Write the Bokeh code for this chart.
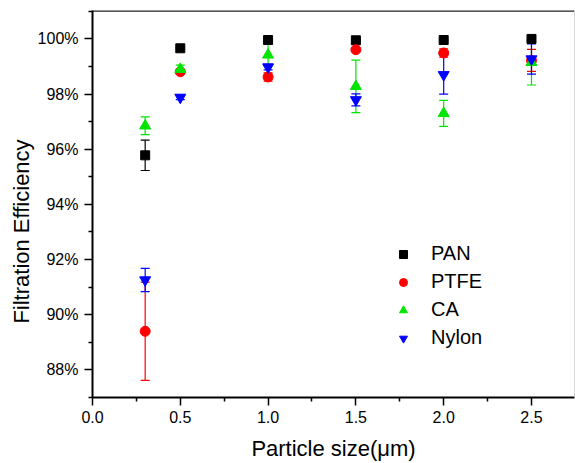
from bokeh.plotting import figure
from bokeh.models import (ColumnDataSource, Whisker, TeeHead, Legend, LegendItem,
                          FixedTicker, PrintfTickFormatter, Range1d, Span)
from bokeh.embed import file_html
from bokeh.resources import INLINE

sizes = [0.3, 0.5, 1.0, 1.5, 2.0, 2.5]
pan = [95.78, 99.66, 99.96, 99.95, 99.96, 100.0]
pan_err = [0.55, 0.03, 0.03, 0.03, 0.03, 0.03]
ptfe = [89.40, 98.81, 98.62, 99.61, 99.49, 99.22]
ptfe_err = [1.78, 0.08, 0.15, 0.05, 0.15, 0.40]
ca = [96.85, 98.90, 99.42, 98.28, 97.30, 99.15]
ca_err = [0.32, 0.15, 0.40, 0.95, 0.47, 0.82]
nylon = [91.26, 97.88, 98.98, 97.79, 98.70, 99.27]
nylon_err = [0.42, 0.08, 0.10, 0.22, 0.70, 0.55]

names = ["PAN", "PTFE", "CA", "Nylon"]
series = [pan, ptfe, ca, nylon]
errs = [pan_err, ptfe_err, ca_err, nylon_err]
colors = ["#000000", "#ff0000", "#00e400", "#0000ff"]
markers = ["square", "circle", "triangle", "inverted_triangle"]
msizes = [9, 10, 11, 11]

FONT = "Liberation Sans"
X_END = 2.745
Y_START, Y_END = 87.0, 101.03

p = figure(width=575, height=463, output_backend="svg", toolbar_location=None,
           x_range=Range1d(0, X_END), y_range=Range1d(Y_START, Y_END),
           min_border_left=92, min_border_right=1, min_border_top=10, min_border_bottom=65)
p.grid.visible = False
p.outline_line_color = None
p.background_fill_color = "white"

items = []
for name, ys, es, c, m, s in zip(names, series, errs, colors, markers, msizes):
    src = ColumnDataSource(dict(x=sizes, y=ys,
                                lo=[a - b for a, b in zip(ys, es)],
                                hi=[a + b for a, b in zip(ys, es)]))
    w = Whisker(source=src, base="x", lower="lo", upper="hi",
                line_color=c, line_width=1.2,
                lower_head=TeeHead(size=9, line_color=c, line_width=1.2),
                upper_head=TeeHead(size=9, line_color=c, line_width=1.2))
    p.add_layout(w)
    r = p.scatter("x", "y", source=src, marker=m, size=s, fill_color=c, line_color=c)
    items.append(LegendItem(label=name, renderers=[r]))

legend = Legend(items=items, location=(301, 48), border_line_color=None,
                background_fill_alpha=0, padding=0, margin=0, spacing=5,
                glyph_height=20, glyph_width=20, label_height=20, label_standoff=18,
                label_text_font=FONT, label_text_font_size="20px", label_text_color="#000000")
p.add_layout(legend)

# axes
p.xaxis.ticker = FixedTicker(ticks=[0, 0.5, 1.0, 1.5, 2.0, 2.5],
                             minor_ticks=[0.25, 0.75, 1.25, 1.75, 2.25, 2.75])
p.yaxis.ticker = FixedTicker(ticks=[88, 90, 92, 94, 96, 98, 100],
                             minor_ticks=[87, 89, 91, 93, 95, 97, 99, 101])
p.xaxis.formatter = PrintfTickFormatter(format="%.1f")
p.yaxis.formatter = PrintfTickFormatter(format="%d%%")
for ax in (p.xaxis, p.yaxis):
    ax.axis_line_width = 2
    ax.axis_line_color = "#000000"
    ax.major_tick_line_width = 1.5
    ax.minor_tick_line_width = 1.5
    ax.major_tick_out = 8
    ax.major_tick_in = 0
    ax.minor_tick_out = 4
    ax.minor_tick_in = 0
    ax.major_label_text_font = FONT
    ax.major_label_text_font_size = "16px"
    ax.major_label_text_color = "#000000"
    ax.axis_label_text_font = FONT
    ax.axis_label_text_font_size = "22px"
    ax.axis_label_text_font_style = "normal"
    ax.axis_label_text_color = "#000000"
p.xaxis.axis_label = "Particle size(\u03bcm)"
p.xaxis.major_label_standoff = 5
p.xaxis.axis_label_standoff = 10
p.yaxis.major_label_standoff = 6
# trailing no-break spaces push the rotated title below the frame centre, as in the reference
p.yaxis.axis_label = "Filtration Efficiency" + "\u00a0" * 9
p.yaxis.axis_label_standoff = 1

p.add_layout(Span(location=Y_END, dimension="width", line_color="#222222", line_width=2.5))
p.add_layout(Span(location=X_END, dimension="height", line_color="#aaaaaa", line_width=1))

open("out.html", "w").write(file_html(p, INLINE))
